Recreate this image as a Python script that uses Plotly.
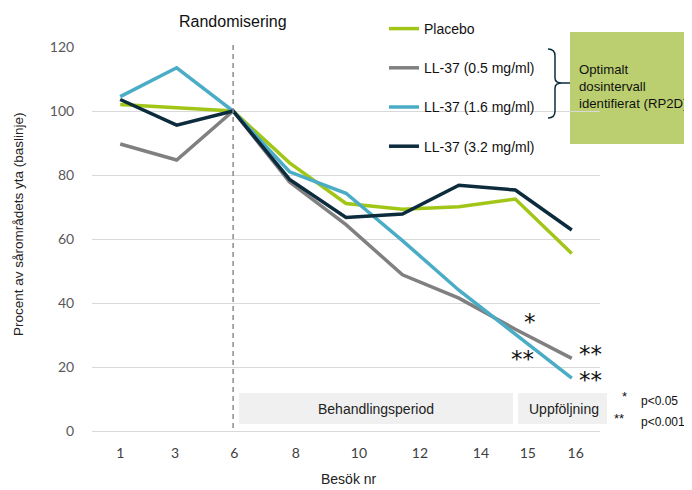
import plotly.graph_objects as go

# ---- data ----
visits = ["1", "3", "6", "8", "10", "12", "14", "15", "16"]
placebo = [102.0, 101.1, 100.0, 83.8, 71.1, 69.3, 70.1, 72.5, 55.5]
ll37_05 = [89.7, 84.7, 100.0, 77.8, 64.5, 48.8, 41.5, 31.8, 22.7]
ll37_16 = [104.5, 113.5, 100.0, 81.0, 74.3, 59.5, 44.0, 30.2, 16.5]
ll37_32 = [103.6, 95.6, 100.0, 78.6, 66.7, 67.8, 76.8, 75.3, 62.8]
series_names = ["Placebo", "LL-37 (0.5 mg/ml)", "LL-37 (1.6 mg/ml)", "LL-37 (3.2 mg/ml)"]
series_values = [placebo, ll37_05, ll37_16, ll37_32]
y_ticks = [0, 20, 40, 60, 80, 100, 120]

# ---- style ----
colors = ["#A2C617", "#808080", "#4BACC6", "#0C2B3C"]
TXT = "Liberation Sans, Arial, sans-serif"
NUM = "Lato, Carlito, Calibri, sans-serif"

OFF = 8                      # page body margin
W, H = 692, 490              # figure size
L, R, T, B = 92, 600, 47, 431  # plot area in screen pixels


def px(xp):
    return (xp - L) / (R - L)


def py(yp):
    return (B - yp) / (B - T)


xs = list(range(len(visits)))
label_pos = [0.0, 0.97, 2.02, 3.11, 4.23, 5.31, 6.39, 7.22, 8.07]

fig = go.Figure()
for i, (name, vals) in enumerate(zip(series_names, series_values)):
    fig.add_trace(go.Scatter(
        x=xs, y=vals, mode="lines", name=name,
        line=dict(color=colors[i], width=3.5),
        legendgroup=name,
    ))

shapes = []
shapes.append(dict(type="line", xref="x", yref="paper", x0=2, x1=2,
                   y0=py(428), y1=py(43),
                   line=dict(color="#8C8C8C", width=1.5, dash="5px,4px")))
shapes.append(dict(type="rect", xref="paper", yref="paper",
                   x0=px(239), x1=px(513), y0=py(424), y1=py(393),
                   fillcolor="#F0F0F0", line=dict(width=0), layer="below"))
shapes.append(dict(type="rect", xref="paper", yref="paper",
                   x0=px(518), x1=px(607), y0=py(424), y1=py(393),
                   fillcolor="#F0F0F0", line=dict(width=0), layer="below"))
shapes.append(dict(type="rect", xref="paper", yref="paper",
                   x0=px(570), x1=px(700), y0=py(144), y1=py(32),
                   fillcolor="#BBCF70", line=dict(width=0), layer="below"))


def P(a, b):
    return f"{px(a):.5f},{py(b):.5f}"


path = (f"M{P(548,49)} Q{P(555,49)} {P(555,56)} L{P(555,78)} Q{P(555,83)} {P(562,83)} L{P(570,83)} "
        f"M{P(562,83)} Q{P(555,83)} {P(555,88)} L{P(555,111)} Q{P(555,118)} {P(548,118)}")
shapes.append(dict(type="path", xref="paper", yref="paper", path=path,
                   line=dict(color="#0C2B3C", width=1.5)))


def note(text, x, y, size, color="#111111", xanchor="center", **kw):
    return dict(text=text, xref="paper", yref="paper", x=px(x), y=py(y),
                xanchor=xanchor, yanchor="middle", showarrow=False,
                font=dict(family=TXT, size=size, color=color), **kw)


ann = []
ann.append(dict(text="Randomisering", xref="x", yref="paper", x=2, y=py(21),
                xanchor="center", yanchor="middle",
                showarrow=False, font=dict(family=TXT, size=16, color="#111111")))
ann.append(note("Optimalt<br>dosintervall<br>identifierat (RP2D)", 577, 87, 13.2,
                xanchor="left", align="left"))
ann.append(note("Behandlingsperiod", 376, 409, 14, "#222222"))
ann.append(note("Uppföljning", 564, 409, 14, "#222222"))
ann.append(note("*", 629, 396, 13, xanchor="right"))
ann.append(note("p<0.05", 639, 401, 12, xanchor="left"))
ann.append(note("**", 626, 418, 13, xanchor="right"))
ann.append(note("p<0.001", 639, 422, 12, xanchor="left"))
ann.append(note("Procent av sårområdets yta (baslinje)", 18, 224, 13.5, "#222222", textangle=-90))
ann.append(note("Besök nr", 349, 479, 14, "#222222"))

STAR = dict(family="DejaVu Sans", size=23, color="#111111")
for (sx, sy, t) in [(7.26, 34.0, "*"), (7.12, 22.5, "**"), (8.34, 24.0, "**"), (8.34, 16.0, "**")]:
    ann.append(dict(text=t, xref="x", yref="y", x=sx, y=sy, xanchor="center", yanchor="middle",
                    showarrow=False, font=STAR))

fig.update_layout(
    width=W, height=H,
    margin=dict(l=L - OFF, r=W - (R - OFF), t=T - OFF, b=H - (B - OFF), pad=0, autoexpand=False),
    paper_bgcolor="white", plot_bgcolor="rgba(0,0,0,0)",
    showlegend=True,
    legend=dict(x=px(384), y=py(13), xanchor="left", yanchor="top",
                bgcolor="rgba(0,0,0,0)", tracegroupgap=18,
                font=dict(family=TXT, size=14, color="#111111")),
    shapes=shapes, annotations=ann,
    xaxis=dict(range=[-0.5, len(visits) - 0.5], tickmode="array", tickvals=label_pos,
               ticktext=visits, showgrid=False, zeroline=False, showline=False,
               ticks="outside", ticklen=9, tickcolor="rgba(0,0,0,0)",
               tickfont=dict(family=NUM, size=14, color="#404040")),
    yaxis=dict(range=[0, 120], tickmode="array", tickvals=y_ticks,
               showgrid=True, gridcolor="#D9D9D9", gridwidth=1,
               zeroline=True, zerolinecolor="#D9D9D9", zerolinewidth=1, showline=False,
               ticks="outside", ticklen=14, tickcolor="rgba(0,0,0,0)",
               tickfont=dict(family=NUM, size=14, color="#595959")),
)

fig.write_html("out.html")
